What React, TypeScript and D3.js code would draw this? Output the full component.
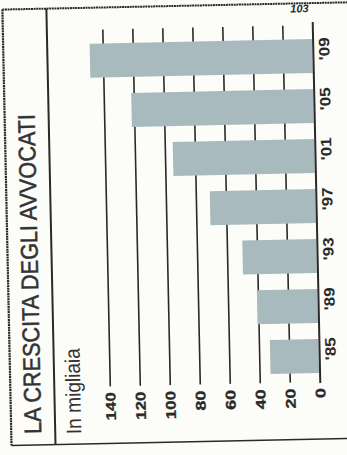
import React, { useRef, useEffect } from "react";
import { select, scaleBand, scaleLinear } from "d3";

const years = ["'09", "'05", "'01", "'97", "'93", "'89", "'85"];
const lawyers = [149, 122, 95, 71, 50, 41, 33]; // in migliaia
const ticks = [0, 20, 40, 60, 80, 100, 120, 140];

const title = "LA CRESCITA DEGLI AVVOCATI";
const subtitle = "In migliaia";
const pageNumber = "103";

const W = 347;
const H = 455;

const App = () => {
  const svgRef = useRef<SVGSVGElement>(null);

  useEffect(() => {
    const svg = select(svgRef.current);
    svg.selectAll("*").remove();

    svg.append("rect").attr("width", W).attr("height", H).attr("fill", "#fcfcf9");

    // the scan is slightly tilted
    const g = svg.append("g").attr("transform", "rotate(-1.2,175,228)");

    const ink = "#2a2a2a";
    const narrow = "'Liberation Sans Narrow', 'Arial Narrow', 'Liberation Sans', sans-serif";

    // value axis runs horizontally, right to left
    const x = scaleLinear().domain([0, 140]).range([317, 107]);
    const y = scaleBand<string>().domain(years).range([42, 376]).paddingInner(0.32).paddingOuter(0);

    // frame
    g.append("line").attr("x1", 7).attr("x2", 7).attr("y1", 6).attr("y2", 442)
      .attr("stroke", ink).attr("stroke-width", 2.2).attr("stroke-dasharray", "2 0.6");
    g.append("line").attr("x1", 7).attr("x2", 360).attr("y1", 6).attr("y2", 6)
      .attr("stroke", ink).attr("stroke-width", 2).attr("stroke-dasharray", "2 0.6");
    g.append("line").attr("x1", 7).attr("x2", 360).attr("y1", 442).attr("y2", 442)
      .attr("stroke", ink).attr("stroke-width", 1.6);
    g.append("line").attr("x1", 51).attr("x2", 51).attr("y1", 6).attr("y2", 442)
      .attr("stroke", ink).attr("stroke-width", 2);

    // title + subtitle, rotated
    g.append("text")
      .attr("transform", "translate(37,431) rotate(-90)")
      .attr("font-family", narrow)
      .attr("font-size", 24)
      .attr("fill", "#333")
      .attr("stroke", "#333")
      .attr("stroke-width", 0.5)
      .attr("textLength", 320)
      .attr("lengthAdjust", "spacingAndGlyphs")
      .text(title);

    g.append("text")
      .attr("transform", "translate(77,432) rotate(-90)")
      .attr("font-family", "'Liberation Sans', Arial, sans-serif")
      .attr("font-size", 21)
      .attr("fill", "#333")
      .attr("textLength", 86)
      .attr("lengthAdjust", "spacingAndGlyphs")
      .text(subtitle);

    // gridlines
    g.selectAll(".grid")
      .data(ticks.filter((t) => t > 0))
      .enter()
      .append("line")
      .attr("x1", (d) => x(d))
      .attr("x2", (d) => x(d))
      .attr("y1", 28)
      .attr("y2", 385)
      .attr("stroke", ink)
      .attr("stroke-width", 1.6);

    // bars
    g.selectAll(".bar")
      .data(lawyers)
      .enter()
      .append("rect")
      .attr("x", (d) => x(d))
      .attr("y", (d, i) => y(years[i]) as number)
      .attr("width", (d) => x(0) - x(d) - 1)
      .attr("height", y.bandwidth())
      .attr("fill", "#a9babe");

    // baseline
    g.append("line").attr("x1", x(0)).attr("x2", x(0)).attr("y1", 25).attr("y2", 386)
      .attr("stroke", ink).attr("stroke-width", 2);

    // tick labels
    g.selectAll(".tick")
      .data(ticks)
      .enter()
      .append("text")
      .attr("transform", (d) => `translate(${x(d) + 5},391) rotate(-90)`)
      .attr("text-anchor", "end")
      .attr("font-family", narrow)
      .attr("font-weight", "bold")
      .attr("font-size", 14)
      .attr("fill", ink)
      .attr("stroke", ink)
      .attr("stroke-width", 0.3)
      .attr("textLength", (d) => {
        const s = String(d);
        return s.length * 10 - (s.split("1").length - 1) * 2;
      })
      .attr("lengthAdjust", "spacingAndGlyphs")
      .text((d) => d);

    // year labels
    g.selectAll(".year")
      .data(years)
      .enter()
      .append("text")
      .attr("transform", (d) => `translate(333,${(y(d) as number) + y.bandwidth() / 2 - 7}) rotate(-90)`)
      .attr("text-anchor", "middle")
      .attr("font-family", narrow)
      .attr("font-weight", "bold")
      .attr("font-size", 15)
      .attr("fill", ink)
      .attr("textLength", 23)
      .attr("lengthAdjust", "spacingAndGlyphs")
      .text((d) => d);

    // page number
    g.append("text")
      .attr("x", 304)
      .attr("y", 15)
      .attr("text-anchor", "middle")
      .attr("font-family", "'Liberation Sans', Arial, sans-serif")
      .attr("font-style", "italic")
      .attr("font-weight", "bold")
      .attr("font-size", 11)
      .attr("fill", ink)
      .text(pageNumber);
  }, []);

  return (
    <svg
      ref={svgRef}
      width={W}
      height={H}
      style={{ position: "absolute", left: 0, top: 0, display: "block" }}
    />
  );
};

export default App;
